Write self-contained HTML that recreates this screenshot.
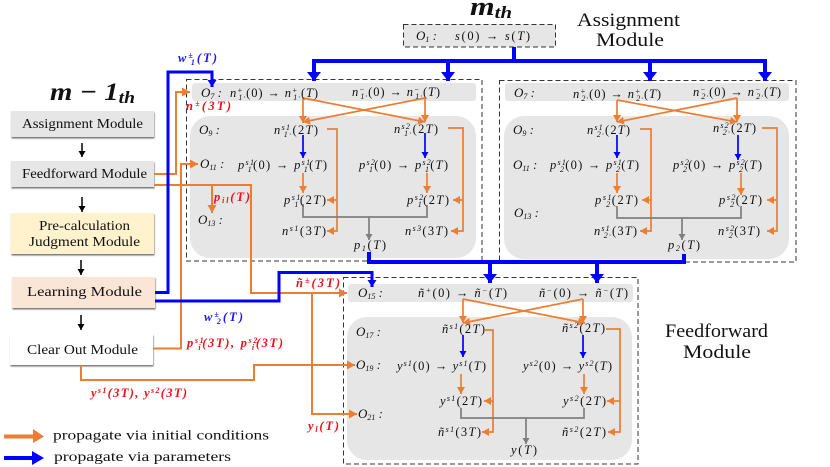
<!DOCTYPE html>
<html><head><meta charset="utf-8"><style>
html,body{margin:0;padding:0;background:#fff}
svg{display:block;filter:blur(0.3px)}
text{font-family:"Liberation Serif",serif;fill:#111}
.m{font-size:12.5px;font-style:italic}
.s{font-size:8px;font-style:italic}
.u{font-style:normal}
.l{font-size:14px}
.t{font-size:19px}
.r{fill:#f0101a;font-weight:bold;font-size:12.5px;font-style:italic}
.b{fill:#1a1af0;font-weight:bold;font-size:12.5px;font-style:italic}
.o{font-size:13px;font-style:italic}
.w{fill:none;stroke:#ed7d31;stroke-width:2}
.n{fill:none;stroke:#ed7d31;stroke-width:1.7}
.p{fill:none;stroke:#0000ff;stroke-width:3}
.q{fill:none;stroke:#0000ff;stroke-width:4}
.h{fill:none;stroke:#0000ff;stroke-width:1.7}
.g{fill:none;stroke:#7f7f7f;stroke-width:1.7}
.k{fill:none;stroke:#000;stroke-width:1.5}
.d{fill:none;stroke:#333;stroke-width:1;stroke-dasharray:5 3}
</style></head><body>
<svg width="830" height="467" viewBox="0 0 830 467" xmlns="http://www.w3.org/2000/svg">
<defs>
<filter id="sh" x="-5%" y="-10%" width="110%" height="130%"><feDropShadow dx="0.5" dy="1.5" stdDeviation="0.8" flood-color="#555" flood-opacity="0.8"/></filter>
<marker id="ao" markerUnits="userSpaceOnUse" markerWidth="7" markerHeight="8" refX="7" refY="4" orient="auto"><path d="M0 0L7 4L0 8Z" fill="#ed7d31"/></marker>
<marker id="aw" markerUnits="userSpaceOnUse" markerWidth="8" markerHeight="9" refX="8" refY="4.5" orient="auto"><path d="M0 0L8 4.5L0 9Z" fill="#ed7d31"/></marker>
<marker id="ab" markerUnits="userSpaceOnUse" markerWidth="6" markerHeight="7" refX="6" refY="3.5" orient="auto"><path d="M0 0L6 3.5L0 7Z" fill="#0000ff"/></marker>
<marker id="am" markerUnits="userSpaceOnUse" markerWidth="7" markerHeight="9" refX="7" refY="4.5" orient="auto"><path d="M0 0L7 4.5L0 9Z" fill="#0000ff"/></marker>
<marker id="aB" markerUnits="userSpaceOnUse" markerWidth="9" markerHeight="14" refX="9" refY="7" orient="auto"><path d="M0 0L9 7L0 14Z" fill="#0000ff"/></marker>
<marker id="ag" markerUnits="userSpaceOnUse" markerWidth="6" markerHeight="7" refX="6" refY="3.5" orient="auto"><path d="M0 0L6 3.5L0 7Z" fill="#7f7f7f"/></marker>
<marker id="ak" markerUnits="userSpaceOnUse" markerWidth="6" markerHeight="7" refX="6" refY="3.5" orient="auto"><path d="M0 0L6 3.5L0 7Z" fill="#000"/></marker>
</defs>

<!-- grey panels -->
<rect x="192" y="83" width="284" height="18" rx="3" fill="#e6e6e6"/>
<rect x="190" y="116" width="286" height="142" rx="20" fill="#e6e6e6"/>
<rect x="505" y="83" width="284" height="18" rx="3" fill="#e6e6e6"/>
<rect x="504" y="116" width="285" height="143" rx="20" fill="#e6e6e6"/>
<rect x="348" y="284" width="285" height="18" rx="3" fill="#e6e6e6"/>
<rect x="347" y="317" width="285" height="143" rx="20" fill="#e6e6e6"/>
<rect x="403.500" y="24.500" width="152" height="22.500" fill="#e6e6e6"/>

<!-- dashed -->
<rect class="d" x="186.500" y="79.500" width="295.500" height="181.500"/>
<rect class="d" x="499.500" y="80.500" width="296.500" height="181.500"/>
<rect class="d" x="343.500" y="277.500" width="294.500" height="186.500"/>
<rect class="d" x="403.500" y="24.500" width="152" height="22.500"/>

<!-- left boxes -->
<rect x="11" y="111" width="143" height="26" fill="#e6e6e6" filter="url(#sh)"/>
<rect x="11" y="161" width="143" height="26" fill="#e6e6e6" filter="url(#sh)"/>
<rect x="11" y="213" width="143" height="41" fill="#fff2cc" filter="url(#sh)"/>
<rect x="12" y="277" width="143" height="31" fill="#fbe5d6" filter="url(#sh)"/>
<rect x="10" y="334" width="143" height="31" fill="#fff" filter="url(#sh)"/>
<text class="l" x="22" y="128" textLength="121" lengthAdjust="spacingAndGlyphs">Assignment Module</text>
<text class="l" x="22" y="178" textLength="125" lengthAdjust="spacingAndGlyphs">Feedforward Module</text>
<text class="l" x="39" y="230" textLength="91" lengthAdjust="spacingAndGlyphs">Pre-calculation</text>
<text class="l" x="29" y="246" textLength="111" lengthAdjust="spacingAndGlyphs">Judgment Module</text>
<text class="l" x="27" y="296" textLength="115" lengthAdjust="spacingAndGlyphs">Learning Module</text>
<text class="l" x="27" y="354" textLength="111" lengthAdjust="spacingAndGlyphs">Clear Out Module</text>
<path class="k" d="M82 143V157" marker-end="url(#ak)"/>
<path class="k" d="M82 197V212" marker-end="url(#ak)"/>
<path class="k" d="M81 260V275" marker-end="url(#ak)"/>
<path class="k" d="M81 315V330" marker-end="url(#ak)"/>

<!-- titles -->
<text x="50" y="100" font-size="25" font-weight="bold" font-style="italic" textLength="85" lengthAdjust="spacingAndGlyphs">m − 1<tspan font-size="17" dy="3">th</tspan></text>
<text x="470" y="15" font-size="26" font-weight="bold" font-style="italic" textLength="42" lengthAdjust="spacingAndGlyphs">m<tspan font-size="17" dy="3">th</tspan></text>
<text class="t" x="577" y="26" textLength="103" lengthAdjust="spacingAndGlyphs">Assignment</text>
<text class="t" x="596" y="46" textLength="68" lengthAdjust="spacingAndGlyphs">Module</text>
<text class="t" x="665" y="337" textLength="103" lengthAdjust="spacingAndGlyphs">Feedforward</text>
<text class="t" x="683" y="358" textLength="68" lengthAdjust="spacingAndGlyphs">Module</text>

<!-- outer orange wires -->
<path class="w" d="M154 174H176V92H190" marker-end="url(#aw)"/>
<path class="w" d="M153 348.500H181V164H198" marker-end="url(#aw)"/>
<path class="w" d="M154 185H251V293H347" marker-end="url(#aw)"/>
<path class="w" d="M212 185V213" marker-end="url(#aw)"/>
<path class="w" d="M312 293V414H357" marker-end="url(#aw)"/>
<path class="w" d="M81 365V380H254V365H355" marker-end="url(#aw)"/>

<!-- outer blue wires -->
<path class="p" d="M155 292.500H168V72H212V87" marker-end="url(#am)"/>
<path class="p" d="M155 301H279V272.500H372V287" marker-end="url(#am)"/>
<path class="q" d="M514 47V61"/>
<path class="q" d="M312 61H765"/>
<path class="q" d="M314 59V81" marker-end="url(#aB)"/>
<path class="q" d="M448 59V81" marker-end="url(#aB)"/>
<path class="q" d="M650 59V81" marker-end="url(#aB)"/>
<path class="q" d="M765 59V81" marker-end="url(#aB)"/>
<path class="q" d="M369 252V262H684V254"/>
<path class="q" d="M490 260V283" marker-end="url(#aB)"/>
<path class="q" d="M597 260V283" marker-end="url(#aB)"/>

<!-- Box 1 wires -->
<path class="n" d="M303 98V123" marker-end="url(#ao)"/>
<path class="n" d="M425 98V122" marker-end="url(#ao)"/>
<path class="n" d="M303 98L425 122" marker-end="url(#ao)"/>
<path class="n" d="M425 98L303 122" marker-end="url(#ao)"/>
<path class="n" d="M327 129H337V231H327" marker-end="url(#ao)"/>
<path class="n" d="M337 200H327" marker-end="url(#ao)"/>
<path class="n" d="M448 128H463V231H451" marker-end="url(#ao)"/>
<path class="n" d="M463 200H453" marker-end="url(#ao)"/>
<path class="h" d="M303 135V158" marker-end="url(#ab)"/>
<path class="h" d="M425 133V158" marker-end="url(#ab)"/>
<path class="n" d="M303 173V193" marker-end="url(#ao)"/>
<path class="n" d="M427 173V193" marker-end="url(#ao)"/>
<path class="g" d="M303 204V217H427V205"/>
<path class="g" d="M369 217V240" marker-end="url(#ag)"/>

<!-- Box 2 wires -->
<path class="n" d="M617 100V122" marker-end="url(#ao)"/>
<path class="n" d="M737 98V122" marker-end="url(#ao)"/>
<path class="n" d="M617 100L737 122" marker-end="url(#ao)"/>
<path class="n" d="M737 98L617 122" marker-end="url(#ao)"/>
<path class="n" d="M640 129H651V231H640" marker-end="url(#ao)"/>
<path class="n" d="M651 200H642" marker-end="url(#ao)"/>
<path class="n" d="M762 128H777V231H767" marker-end="url(#ao)"/>
<path class="n" d="M777 200H767" marker-end="url(#ao)"/>
<path class="h" d="M617 135V158" marker-end="url(#ab)"/>
<path class="h" d="M738 135V160" marker-end="url(#ab)"/>
<path class="n" d="M617 173V193" marker-end="url(#ao)"/>
<path class="n" d="M741 173V195" marker-end="url(#ao)"/>
<path class="g" d="M617 206V218H741V206"/>
<path class="g" d="M682 218V240" marker-end="url(#ag)"/>

<!-- Box 3 wires -->
<path class="n" d="M463 299V323" marker-end="url(#ao)"/>
<path class="n" d="M583 299V323" marker-end="url(#ao)"/>
<path class="n" d="M463 299L585 323" marker-end="url(#ao)"/>
<path class="n" d="M583 299L463 323" marker-end="url(#ao)"/>
<path class="n" d="M485 330H493V432H482" marker-end="url(#ao)"/>
<path class="n" d="M493 401H484" marker-end="url(#ao)"/>
<path class="n" d="M606 329H620V432H608" marker-end="url(#ao)"/>
<path class="n" d="M620 401H607" marker-end="url(#ao)"/>
<path class="h" d="M463 335V357" marker-end="url(#ab)"/>
<path class="h" d="M583 335V358" marker-end="url(#ab)"/>
<path class="n" d="M461 374V394" marker-end="url(#ao)"/>
<path class="n" d="M584 374V394" marker-end="url(#ao)"/>
<path class="g" d="M461 408V418H584V408"/>
<path class="g" d="M526 418V444" marker-end="url(#ag)"/>

<!-- top -->
<text class="o" x="416" y="40">O<tspan class="s" dy="2">1</tspan><tspan dy="-2"> :</tspan></text>
<text class="m" x="455" y="40" textLength="75"><tspan>s</tspan><tspan class="u">(0) → </tspan>s<tspan class="u">(</tspan>T<tspan class="u">)</tspan></text>

<!-- Box 1 labels -->
<text class="o" x="201" y="97">O<tspan class="s" dy="2">7</tspan><tspan dy="-2"> :</tspan></text>
<text class="m" x="230" y="97" textLength="88">n<tspan class="s" dy="-4">+</tspan><tspan class="s" dx="-5" dy="7">1·</tspan><tspan class="u" dy="-3">(0) → </tspan>n<tspan class="s" dy="-4">+</tspan><tspan class="s" dx="-5" dy="7">1·</tspan><tspan class="u" dy="-3">(</tspan>T<tspan class="u">)</tspan></text>
<text class="m" x="352" y="96" textLength="88">n<tspan class="s" dy="-4">−</tspan><tspan class="s" dx="-5" dy="7">1·</tspan><tspan class="u" dy="-3">(0) → </tspan>n<tspan class="s" dy="-4">−</tspan><tspan class="s" dx="-5" dy="7">1·</tspan><tspan class="u" dy="-3">(</tspan>T<tspan class="u">)</tspan></text>
<text class="o" x="199" y="134">O<tspan class="s" dy="2">9</tspan><tspan dy="-2"> :</tspan></text>
<text class="o" x="200" y="168">O<tspan class="s" dy="2">11</tspan><tspan dy="-2"> :</tspan></text>
<text class="o" x="198" y="224">O<tspan class="s" dy="2">13</tspan><tspan dy="-2"> :</tspan></text>
<text class="m" x="274" y="134" textLength="44">n<tspan class="s" dy="-4">s1</tspan><tspan class="s" dx="-7" dy="7">1·</tspan><tspan class="u" dy="-3">(2</tspan>T<tspan class="u">)</tspan></text>
<text class="m" x="394" y="133" textLength="44">n<tspan class="s" dy="-4">s2</tspan><tspan class="s" dx="-7" dy="7">1·</tspan><tspan class="u" dy="-3">(2</tspan>T<tspan class="u">)</tspan></text>
<text class="m" x="238" y="169" textLength="89">p<tspan class="s" dy="-4">s1</tspan><tspan class="s" dx="-7" dy="7">1</tspan><tspan class="u" dy="-3">(0) → </tspan>p<tspan class="s" dy="-4">s1</tspan><tspan class="s" dx="-7" dy="7">1</tspan><tspan class="u" dy="-3">(</tspan>T<tspan class="u">)</tspan></text>
<text class="m" x="359" y="169" textLength="89">p<tspan class="s" dy="-4">s2</tspan><tspan class="s" dx="-7" dy="7">1</tspan><tspan class="u" dy="-3">(0) → </tspan>p<tspan class="s" dy="-4">s2</tspan><tspan class="s" dx="-7" dy="7">1</tspan><tspan class="u" dy="-3">(</tspan>T<tspan class="u">)</tspan></text>
<text class="m" x="284" y="204" textLength="42">p<tspan class="s" dy="-4">s1</tspan><tspan class="s" dx="-7" dy="7">1</tspan><tspan class="u" dy="-3">(2</tspan>T<tspan class="u">)</tspan></text>
<text class="m" x="407" y="204" textLength="42">p<tspan class="s" dy="-4">s2</tspan><tspan class="s" dx="-7" dy="7">1</tspan><tspan class="u" dy="-3">(2</tspan>T<tspan class="u">)</tspan></text>
<text class="m" x="282" y="235" textLength="44">n<tspan class="s" dy="-4">s1</tspan><tspan class="u" dy="4">(3</tspan>T<tspan class="u">)</tspan></text>
<text class="m" x="405" y="235" textLength="43">n<tspan class="s" dy="-4">s3</tspan><tspan class="u" dy="4">(3</tspan>T<tspan class="u">)</tspan></text>
<text class="m" x="354" y="249" textLength="32">p<tspan class="s" dy="2">1</tspan><tspan class="u" dy="-2">(</tspan>T<tspan class="u">)</tspan></text>

<!-- Box 2 labels -->
<text class="o" x="514" y="97">O<tspan class="s" dy="2">7</tspan><tspan dy="-2"> :</tspan></text>
<text class="m" x="573" y="98" textLength="88">n<tspan class="s" dy="-4">+</tspan><tspan class="s" dx="-5" dy="7">2·</tspan><tspan class="u" dy="-3">(0) → </tspan>n<tspan class="s" dy="-4">+</tspan><tspan class="s" dx="-5" dy="7">2·</tspan><tspan class="u" dy="-3">(</tspan>T<tspan class="u">)</tspan></text>
<text class="m" x="693" y="96" textLength="88">n<tspan class="s" dy="-4">−</tspan><tspan class="s" dx="-5" dy="7">2·</tspan><tspan class="u" dy="-3">(0) → </tspan>n<tspan class="s" dy="-4">−</tspan><tspan class="s" dx="-5" dy="7">2·</tspan><tspan class="u" dy="-3">(</tspan>T<tspan class="u">)</tspan></text>
<text class="o" x="513" y="134">O<tspan class="s" dy="2">9</tspan><tspan dy="-2"> :</tspan></text>
<text class="o" x="513" y="169">O<tspan class="s" dy="2">11</tspan><tspan dy="-2"> :</tspan></text>
<text class="o" x="514" y="217">O<tspan class="s" dy="2">13</tspan><tspan dy="-2"> :</tspan></text>
<text class="m" x="587" y="134" textLength="43">n<tspan class="s" dy="-4">s1</tspan><tspan class="s" dx="-7" dy="7">2·</tspan><tspan class="u" dy="-3">(2</tspan>T<tspan class="u">)</tspan></text>
<text class="m" x="713" y="132" textLength="43">n<tspan class="s" dy="-4">s2</tspan><tspan class="s" dx="-7" dy="7">2·</tspan><tspan class="u" dy="-3">(2</tspan>T<tspan class="u">)</tspan></text>
<text class="m" x="550" y="169" textLength="89">p<tspan class="s" dy="-4">s1</tspan><tspan class="s" dx="-7" dy="7">2</tspan><tspan class="u" dy="-3">(0) → </tspan>p<tspan class="s" dy="-4">s1</tspan><tspan class="s" dx="-7" dy="7">2</tspan><tspan class="u" dy="-3">(</tspan>T<tspan class="u">)</tspan></text>
<text class="m" x="673" y="169" textLength="89">p<tspan class="s" dy="-4">s2</tspan><tspan class="s" dx="-7" dy="7">2</tspan><tspan class="u" dy="-3">(0) → </tspan>p<tspan class="s" dy="-4">s2</tspan><tspan class="s" dx="-7" dy="7">2</tspan><tspan class="u" dy="-3">(</tspan>T<tspan class="u">)</tspan></text>
<text class="m" x="595" y="204" textLength="43">p<tspan class="s" dy="-4">s1</tspan><tspan class="s" dx="-7" dy="7">2</tspan><tspan class="u" dy="-3">(2</tspan>T<tspan class="u">)</tspan></text>
<text class="m" x="719" y="204" textLength="43">p<tspan class="s" dy="-4">s2</tspan><tspan class="s" dx="-7" dy="7">2</tspan><tspan class="u" dy="-3">(2</tspan>T<tspan class="u">)</tspan></text>
<text class="m" x="594" y="235" textLength="43">n<tspan class="s" dy="-4">s1</tspan><tspan class="s" dx="-7" dy="7">2·</tspan><tspan class="u" dy="-3">(3</tspan>T<tspan class="u">)</tspan></text>
<text class="m" x="718" y="235" textLength="42">n<tspan class="s" dy="-4">s2</tspan><tspan class="s" dx="-7" dy="7">2</tspan><tspan class="u" dy="-3">(3</tspan>T<tspan class="u">)</tspan></text>
<text class="m" x="668" y="249" textLength="32">p<tspan class="s" dy="2">2</tspan><tspan class="u" dy="-2">(</tspan>T<tspan class="u">)</tspan></text>

<!-- Box 3 labels -->
<text class="o" x="358" y="297">O<tspan class="s" dy="2">15</tspan><tspan dy="-2"> :</tspan></text>
<text class="m" x="418" y="297" textLength="89">ñ<tspan class="s" dy="-4">+</tspan><tspan class="u" dy="4">(0) → </tspan>ñ<tspan class="s" dy="-4">−</tspan><tspan class="u" dy="4">(</tspan>T<tspan class="u">)</tspan></text>
<text class="m" x="539" y="297" textLength="89">ñ<tspan class="s" dy="-4">−</tspan><tspan class="u" dy="4">(0) → </tspan>ñ<tspan class="s" dy="-4">−</tspan><tspan class="u" dy="4">(</tspan>T<tspan class="u">)</tspan></text>
<text class="o" x="356" y="336">O<tspan class="s" dy="2">17</tspan><tspan dy="-2"> :</tspan></text>
<text class="o" x="356" y="369">O<tspan class="s" dy="2">19</tspan><tspan dy="-2"> :</tspan></text>
<text class="o" x="358" y="418">O<tspan class="s" dy="2">21</tspan><tspan dy="-2"> :</tspan></text>
<text class="m" x="442" y="333" textLength="43">ñ<tspan class="s" dy="-4">s1</tspan><tspan class="u" dy="4">(2</tspan>T<tspan class="u">)</tspan></text>
<text class="m" x="562" y="332" textLength="43">ñ<tspan class="s" dy="-4">s2</tspan><tspan class="u" dy="4">(2</tspan>T<tspan class="u">)</tspan></text>
<text class="m" x="397" y="370" textLength="89">y<tspan class="s" dy="-4">s1</tspan><tspan class="u" dy="4">(0) → </tspan>y<tspan class="s" dy="-4">s1</tspan><tspan class="u" dy="4">(</tspan>T<tspan class="u">)</tspan></text>
<text class="m" x="523" y="370" textLength="89">y<tspan class="s" dy="-4">s2</tspan><tspan class="u" dy="4">(0) → </tspan>y<tspan class="s" dy="-4">s2</tspan><tspan class="u" dy="4">(</tspan>T<tspan class="u">)</tspan></text>
<text class="m" x="440" y="405" textLength="42">y<tspan class="s" dy="-4">s1</tspan><tspan class="u" dy="4">(2</tspan>T<tspan class="u">)</tspan></text>
<text class="m" x="563" y="405" textLength="43">y<tspan class="s" dy="-4">s2</tspan><tspan class="u" dy="4">(2</tspan>T<tspan class="u">)</tspan></text>
<text class="m" x="438" y="436" textLength="43">ñ<tspan class="s" dy="-4">s1</tspan><tspan class="u" dy="4">(3</tspan>T<tspan class="u">)</tspan></text>
<text class="m" x="562" y="436" textLength="44">ñ<tspan class="s" dy="-4">s2</tspan><tspan class="u" dy="4">(2</tspan>T<tspan class="u">)</tspan></text>
<text class="m" x="511" y="454" textLength="26">y<tspan class="u">(</tspan>T<tspan class="u">)</tspan></text>

<!-- colored labels -->
<text class="b" x="178" y="62" textLength="39">w<tspan class="s" dy="-4" style="fill:#1a1af0">±</tspan><tspan class="s" dx="-4" dy="7" style="fill:#1a1af0">1</tspan><tspan dy="-3">(T)</tspan></text>
<text class="r" x="186" y="110" textLength="45">n<tspan class="s" dy="-4" style="fill:#f0101a">±</tspan><tspan dy="4">(3T)</tspan></text>
<text class="r" x="214" y="201" textLength="36">p<tspan class="s" dy="2" style="fill:#f0101a">il</tspan><tspan dy="-2">(T)</tspan></text>
<text class="b" x="204" y="321" textLength="39">w<tspan class="s" dy="-4" style="fill:#1a1af0">±</tspan><tspan class="s" dx="-4" dy="7" style="fill:#1a1af0">2</tspan><tspan dy="-3">(T)</tspan></text>
<text class="r" x="187" y="347" textLength="96">p<tspan class="s" dy="-4" style="fill:#f0101a">s1</tspan><tspan class="s" dx="-7" dy="7" style="fill:#f0101a">i</tspan><tspan dy="-3">(3T), p</tspan><tspan class="s" dy="-4" style="fill:#f0101a">s2</tspan><tspan class="s" dx="-7" dy="7" style="fill:#f0101a">i</tspan><tspan dy="-3">(3T)</tspan></text>
<text class="r" x="91" y="397" textLength="96">y<tspan class="s" dy="-4" style="fill:#f0101a">s1</tspan><tspan dy="4">(3T), y</tspan><tspan class="s" dy="-4" style="fill:#f0101a">s2</tspan><tspan dy="4">(3T)</tspan></text>
<text class="r" x="296" y="287" textLength="44">ñ<tspan class="s" dy="-4" style="fill:#f0101a">±</tspan><tspan dy="4">(3T)</tspan></text>
<text class="r" x="308" y="430" textLength="31">y<tspan class="s" dy="2" style="fill:#f0101a">l</tspan><tspan dy="-2">(T)</tspan></text>

<!-- legend -->
<path class="w" style="stroke-width:4" d="M4 436.500H38"/>
<path d="M33 429L44 436.500L33 443Z" fill="#ed7d31"/>
<path class="p" style="stroke-width:4" d="M4 458H38"/>
<path d="M32 451L44 458L32 465Z" fill="#0000ff"/>
<text class="l" x="53" y="439.500" textLength="216" lengthAdjust="spacingAndGlyphs">propagate via initial conditions</text>
<text class="l" x="54" y="461" textLength="177" lengthAdjust="spacingAndGlyphs">propagate via parameters</text>
</svg>
</body></html>
